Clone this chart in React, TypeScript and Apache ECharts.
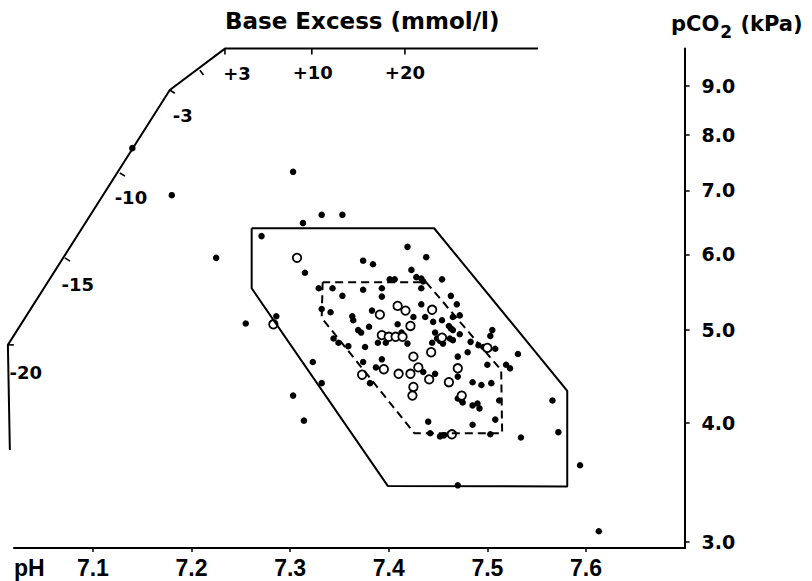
import React, { useEffect, useRef } from 'react';
import * as echarts from 'echarts';

// Axis ticks
const phTicks = [7.1, 7.2, 7.3, 7.4, 7.5, 7.6];
const pco2Ticks = [3, 4, 5, 6, 7, 8, 9];

// Filled dots (pH, pCO2 kPa)
const filledPH = [
  7.14, 7.18, 7.225, 7.303, 7.313, 7.332, 7.353, 7.271, 7.315, 7.255,
  7.286, 7.323, 7.332, 7.303, 7.314, 7.47, 7.613, 7.594, 7.566, 7.572,
  7.534, 7.531, 7.374, 7.384, 7.419, 7.438, 7.423, 7.428, 7.433, 7.435,
  7.401, 7.406, 7.454, 7.329, 7.343, 7.374, 7.393, 7.393, 7.433, 7.353,
  7.463, 7.332, 7.341, 7.433, 7.469, 7.383, 7.363, 7.364, 7.425, 7.437,
  7.38, 7.409, 7.445, 7.454, 7.465, 7.472, 7.369, 7.372, 7.413, 7.344,
  7.349, 7.359, 7.376, 7.389, 7.397, 7.419, 7.461, 7.463, 7.465, 7.472,
  7.447, 7.449, 7.452, 7.455, 7.462, 7.465, 7.444, 7.483, 7.505, 7.503,
  7.491, 7.496, 7.508, 7.48, 7.47, 7.5, 7.519, 7.523, 7.374, 7.393,
  7.387, 7.435, 7.447, 7.47, 7.485, 7.494, 7.504, 7.381, 7.47, 7.474,
  7.475, 7.485, 7.49, 7.492, 7.512, 7.44, 7.485, 7.508, 7.442, 7.452,
  7.456, 7.503,
];
const filledPCO2 = [
  7.75, 6.92, 5.95, 7.32, 6.47, 6.6, 6.6, 6.27, 5.74, 5.08,
  5.17, 4.63, 4.4, 4.27, 4.02, 3.44, 3.08, 3.61, 4.22, 3.91,
  3.86, 4.72, 5.91, 5.86, 6.11, 5.96, 5.78, 5.68, 5.66, 5.62,
  5.65, 5.65, 5.65, 5.53, 5.53, 5.51, 5.53, 5.42, 5.53, 5.43,
  5.43, 5.26, 5.22, 5.32, 5.32, 5.24, 5.17, 5.12, 5.16, 5.16,
  5.04, 5.07, 5.1, 5.12, 5.16, 5.18, 5.0, 4.97, 4.97, 4.9,
  4.85, 4.81, 4.8, 4.85, 4.85, 4.84, 5.05, 5.02, 5.0, 4.95,
  4.97, 4.9, 4.87, 4.84, 4.9, 4.88, 4.85, 4.86, 5.0, 4.93,
  4.82, 4.8, 4.78, 4.74, 4.69, 4.6, 4.6, 4.56, 4.63, 4.66,
  4.57, 4.52, 4.5, 4.47, 4.41, 4.38, 4.4, 4.4, 4.24, 4.22,
  4.2, 4.17, 4.19, 4.14, 4.22, 4.01, 3.98, 4.03, 3.9, 3.87,
  3.88, 3.89,
];

// Open circles (pH, pCO2 kPa)
const openPH = [
  7.307, 7.283, 7.391, 7.409, 7.417, 7.444, 7.422, 7.393, 7.4, 7.407,
  7.414, 7.454, 7.443, 7.425, 7.43, 7.47, 7.5, 7.373, 7.395, 7.41,
  7.422, 7.441, 7.461, 7.425, 7.424, 7.474, 7.464,
];
const openPCO2 = [
  5.95, 5.07, 5.19, 5.3, 5.24, 5.25, 5.05, 4.94, 4.92, 4.92,
  4.92, 4.91, 4.74, 4.69, 4.57, 4.56, 4.79, 4.49, 4.55, 4.5,
  4.5, 4.44, 4.41, 4.36, 4.27, 4.27, 3.89,
];

// Outer (solid) and inner (dashed) reference areas
const outerPH = [7.261, 7.261, 7.399, 7.581, 7.581, 7.446, 7.261];
const outerPCO2 = [6.39, 5.53, 3.435, 3.43, 4.32, 6.39, 6.39];
const innerPH = [7.333, 7.332, 7.426, 7.515, 7.514, 7.438, 7.333];
const innerPCO2 = [5.61, 5.15, 3.9, 3.9, 4.54, 5.61, 5.61];

// Base excess scale
const beCurvePH = [7.0158, 7.0138, 7.178, 7.2339, 7.5514];
const beCurvePCO2 = [3.746, 4.825, 8.915, 9.85, 9.85];
const beTickPH = [7.0138, 7.0716, 7.1274, 7.178, 7.2085, 7.2339, 7.322, 7.4164];
const beTickPCO2 = [4.825, 5.95, 7.3, 8.915, 9.35, 9.85, 9.85, 9.85];
const beTickLabels = ['-20', '-15', '-10', '-3', '', '+3', '+10', '+20'];

// styling of BE ticks / labels
const beTickRot = [90, 57.6, 57.6, 57.6, 36.9, 0, 0, 0];
const beTickOff = [[3, 0], [2.5, 1.6], [2.5, 1.6], [2.5, 1.6], [1.8, 2.4], [0, 3], [0, 3], [0, 3]];
const beLabelOff = [[18, 28], [13, 27], [11, 25], [13, 25], [0, 0], [12, 25], [1, 24], [0, 24]];

const LIB = "'Liberation Sans', Arial, sans-serif";
const DEJAVU = "'DejaVu Sans', sans-serif";

const X_MIN = 7.02;
const X_MAX = 7.7;
const Y_MIN = 2.958;
const Y_MAX = 9.85;
const PX_PER_PH = 986;

const pairs = (a: number[], b: number[]) => a.map((v, i) => [v, b[i]]);

export default function App() {
  const ref = useRef<HTMLDivElement>(null);
  useEffect(() => {
    const chart = echarts.init(ref.current!, null, { renderer: 'svg' });
    const gridLeft = 14;
    const gridRight = 127.4;
    const extraLeft = 12; // second grid (BE scale) extends this many px further left
    const option: any = {
      animation: false,
      backgroundColor: '#ffffff',
      grid: [
        { left: gridLeft, right: gridRight, top: 48.6, bottom: 33, containLabel: false, outerBoundsMode: 'none' },
        { left: gridLeft - extraLeft, right: gridRight, top: 48.6, bottom: 33, containLabel: false, outerBoundsMode: 'none' },
      ],
      xAxis: [
        {
          type: 'value',
          gridIndex: 0,
          position: 'bottom',
          min: X_MIN,
          max: X_MAX,
          axisLine: { show: true, onZero: false, lineStyle: { color: '#000', width: 2 } },
          axisTick: { show: true, length: 4, customValues: phTicks, lineStyle: { color: '#000', width: 1.5 } },
          axisLabel: {
            customValues: phTicks,
            formatter: (v: number) => v.toFixed(1),
            margin: 8,
            color: '#000',
            fontSize: 23,
            fontWeight: 'bold',
            fontFamily: LIB,
          },
          splitLine: { show: false },
        },
        {
          type: 'value',
          gridIndex: 1,
          show: false,
          min: X_MIN - extraLeft / PX_PER_PH,
          max: X_MAX,
        },
      ],
      yAxis: [
        {
          type: 'log',
          gridIndex: 0,
          logBase: 10,
          position: 'right',
          min: Y_MIN,
          max: Y_MAX,
          axisLine: { show: true, lineStyle: { color: '#000', width: 2 } },
          axisTick: { show: true, length: 5, customValues: pco2Ticks, lineStyle: { color: '#000', width: 1.5 } },
          axisLabel: {
            customValues: pco2Ticks,
            formatter: (v: number) => Number(v).toFixed(1),
            margin: 17,
            color: '#000',
            fontSize: 19,
            fontWeight: 'bold',
            fontFamily: DEJAVU,
          },
          splitLine: { show: false },
          minorTick: { show: false },
        },
        {
          type: 'log',
          gridIndex: 1,
          show: false,
          logBase: 10,
          min: Y_MIN,
          max: Y_MAX,
        },
      ],
      graphic: [
        {
          type: 'text', x: 225, y: 21,
          style: { text: 'Base Excess (mmol/l)', fontSize: 23, fontWeight: 'bold', fontFamily: DEJAVU, fill: '#000', verticalAlign: 'middle' },
        },
        {
          type: 'text', x: 671, y: 24,
          style: {
            text: '{a|pCO}{b|2}{a| (kPa)}',
            fill: '#000',
            verticalAlign: 'middle',
            rich: {
              a: { fontSize: 21, fontWeight: 'bold', fontFamily: DEJAVU, fill: '#000' },
              b: { fontSize: 17, fontWeight: 'bold', fontFamily: DEJAVU, fill: '#000', padding: [16, 1, 0, 1] },
            },
          },
        },
        {
          type: 'text', x: 14, y: 568,
          style: { text: 'pH', fontSize: 23, fontWeight: 'bold', fontFamily: LIB, fill: '#000', verticalAlign: 'middle' },
        },
      ],
      series: [
        {
          type: 'line', data: pairs(outerPH, outerPCO2), symbol: 'none', silent: true,
          lineStyle: { color: '#000', width: 2 },
        },
        {
          type: 'line', data: pairs(innerPH, innerPCO2), symbol: 'none', silent: true,
          lineStyle: { color: '#000', width: 2, type: [8, 5] },
        },
        {
          type: 'line', xAxisIndex: 1, yAxisIndex: 1,
          data: pairs(beCurvePH, beCurvePCO2), symbol: 'none', silent: true, clip: false,
          lineStyle: { color: '#000', width: 2 },
        },
        {
          type: 'scatter', xAxisIndex: 1, yAxisIndex: 1, silent: true, clip: false,
          symbol: 'rect', symbolSize: [1.6, 6],
          itemStyle: { color: '#000', opacity: 1 },
          data: beTickPH.map((p, i) => ({
            value: [p, beTickPCO2[i]],
            symbolRotate: beTickRot[i],
            symbolOffset: beTickOff[i],
          })),
        },
        {
          type: 'scatter', xAxisIndex: 1, yAxisIndex: 1, silent: true, clip: false,
          symbol: 'circle', symbolSize: 1,
          itemStyle: { color: 'rgba(255,255,255,0)', opacity: 1 },
          data: beTickPH.map((p, i) => ({
            value: [p, beTickPCO2[i]],
            label: { offset: beLabelOff[i] },
          })),
          label: {
            show: true,
            position: 'inside',
            formatter: (prm: any) => beTickLabels[prm.dataIndex],
            color: '#000',
            opacity: 1,
            textBorderWidth: 0,
            textBorderColor: 'transparent',
            fontSize: 18,
            fontWeight: 'bold',
            fontFamily: DEJAVU,
          },
        },
        {
          type: 'scatter', silent: true,
          symbol: 'circle', symbolSize: 6.5,
          itemStyle: { color: '#000', opacity: 1 },
          data: pairs(filledPH, filledPCO2),
        },
        {
          type: 'scatter', silent: true,
          symbol: 'circle', symbolSize: 8.5,
          itemStyle: { color: '#fff', borderColor: '#000', borderWidth: 1.8, opacity: 1 },
          data: pairs(openPH, openPCO2),
        },
      ],
    };
    chart.setOption(option);
    return () => chart.dispose();
  }, []);
  return (
    <div
      ref={ref}
      style={{ position: 'fixed', left: 0, top: 0, width: 812, height: 581, background: '#fff' }}
    />
  );
}
